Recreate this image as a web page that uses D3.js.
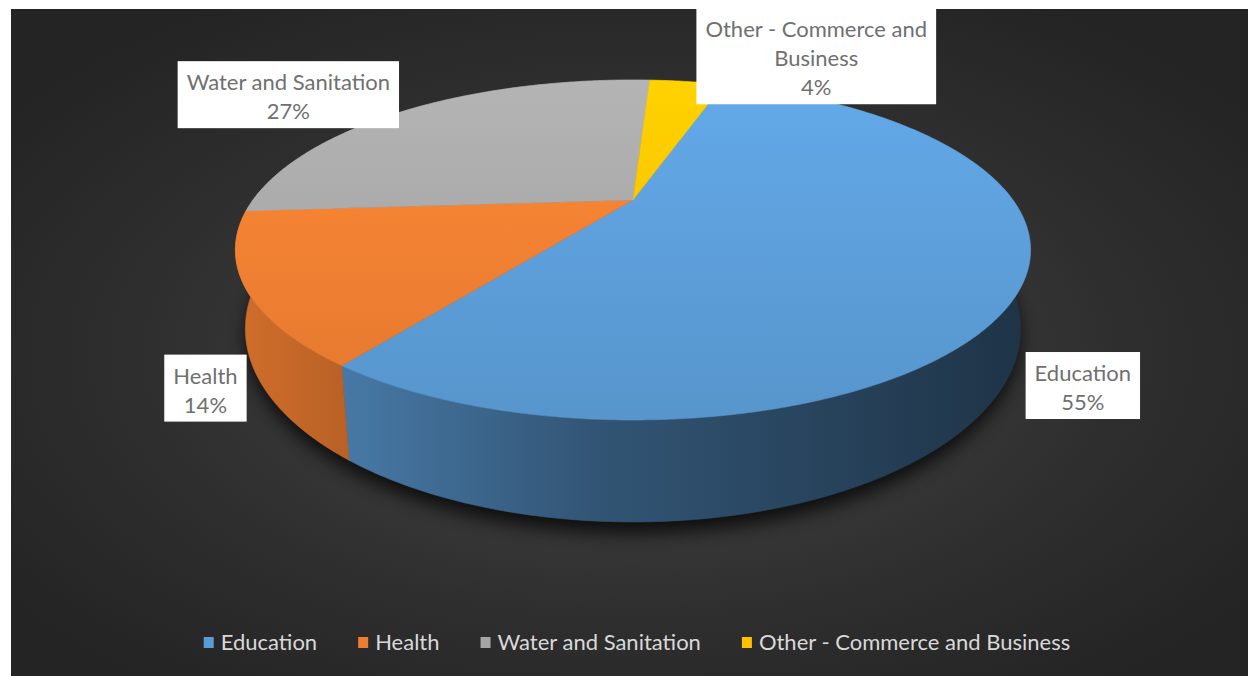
<!DOCTYPE html>
<html>
<head>
<meta charset="utf-8">
<script src="https://cdn.jsdelivr.net/npm/d3@7"></script>
<style>
  html, body { margin: 0; padding: 0; background: #fff; }
  svg { display: block; }
</style>
</head>
<body>
<script>
// data
const categories = ["Education", "Health", "Water and Sanitation", "Other - Commerce and Business"];
const shares = [55, 14, 27, 4];
const labelLines = [["Education"], ["Health"], ["Water and Sanitation"], ["Other - Commerce and", "Business"]];
const sliceColors = ["#5B9BD5", "#ED7D31", "#A5A5A5", "#FFC000"];
// label nudges (Excel "best fit" moves them around)
const labelShift = [[1, 6], [18, -2], [-100, -62], [125, -66]];

const width = 1248, height = 676;
const fontFamily = "Lato, 'Open Sans', sans-serif";

const svg = d3.select("body").append("svg")
    .attr("width", width)
    .attr("height", height);

const defs = svg.append("defs");

// background
const bg = defs.append("radialGradient").attr("id", "bg")
    .attr("cx", "50%").attr("cy", "52%").attr("r", "62%");
bg.append("stop").attr("offset", "0%").attr("stop-color", "#474747");
bg.append("stop").attr("offset", "65%").attr("stop-color", "#2e2e2e");
bg.append("stop").attr("offset", "100%").attr("stop-color", "#242424");

svg.append("rect")
    .attr("x", 11).attr("y", 9)
    .attr("width", width - 11).attr("height", height - 9)
    .attr("fill", "url(#bg)");

// 3d perspective projection of the pie disc
const cx = 633, cy = 200;   // apex
const A = 380, B = 155.3, k = 0.294, H = 72;
const taper = 0.025;         // bottom rim looks a bit narrower

function proj(t, r, h) {
    const u = Math.sin(t) * r, v = -Math.cos(t) * r;
    const s = 1 / (1 - k * v);
    return [cx + A * u * s * (1 - taper * h / H), cy + (B * v + h) * s];
}

function rimPoints(a0, a1, r, h) {
    const n = Math.max(2, Math.ceil((a1 - a0) / 0.01));
    const pts = [];
    for (let i = 0; i <= n; i++) pts.push(proj(a0 + (a1 - a0) * i / n, r, h));
    return pts;
}

const line = d3.line();

const firstSliceAngle = 17.7 * Math.PI / 180;
const pie = d3.pie().sort(null)
    .startAngle(firstSliceAngle)
    .endAngle(firstSliceAngle + 2 * Math.PI);
const arcs = pie(shares);

// shadow
const blur = defs.append("filter").attr("id", "blur")
    .attr("x", "-20%").attr("y", "-20%").attr("width", "140%").attr("height", "140%");
blur.append("feGaussianBlur").attr("stdDeviation", 9);

svg.append("path")
    .attr("d", line(rimPoints(0, 2 * Math.PI, 1.0, H + 8)) + "Z")
    .attr("fill", "#000")
    .attr("opacity", 0.75)
    .attr("filter", "url(#blur)");

// gradients
arcs.forEach((d, i) => {
    const c = d3.rgb(sliceColors[i]);
    const mul = f => d3.rgb(c.r * f, c.g * f, c.b * f).formatHex();
    const wg = defs.append("linearGradient").attr("id", "wall" + i)
        .attr("gradientUnits", "userSpaceOnUse")
        .attr("x1", 235).attr("x2", 1030).attr("y1", 0).attr("y2", 0);
    wg.append("stop").attr("offset", 0).attr("stop-color", mul(0.88));
    wg.append("stop").attr("offset", 0.45).attr("stop-color", mul(0.55));
    wg.append("stop").attr("offset", 1).attr("stop-color", mul(0.33));

    const tg = defs.append("linearGradient").attr("id", "top" + i)
        .attr("gradientUnits", "userSpaceOnUse")
        .attr("x1", 0).attr("x2", 0).attr("y1", 80).attr("y2", 420);
    tg.append("stop").attr("offset", 0).attr("stop-color", c.brighter(0.25).formatHex());
    tg.append("stop").attr("offset", 1).attr("stop-color", c.darker(0.12).formatHex());
});

// outer walls
const walls = svg.append("g");
arcs.forEach((d, i) => {
    const topEdge = rimPoints(d.startAngle, d.endAngle, 1, 0);
    const botEdge = rimPoints(d.startAngle, d.endAngle, 1, H).reverse();
    walls.append("path")
        .attr("d", line(topEdge.concat(botEdge)) + "Z")
        .attr("fill", `url(#wall${i})`)
        .attr("stroke", `url(#wall${i})`)
        .attr("stroke-width", 0.6);
});

// top faces
const tops = svg.append("g");
arcs.forEach((d, i) => {
    const pts = [proj(0, 0, 0)].concat(rimPoints(d.startAngle, d.endAngle, 1, 0));
    tops.append("path")
        .attr("d", line(pts) + "Z")
        .attr("fill", `url(#top${i})`)
        .attr("stroke", `url(#top${i})`)
        .attr("stroke-width", 0.6);
});

// data labels
const lineH = 29, padX = 9;
const labels = svg.append("g");
arcs.forEach((d, i) => {
    const mid = (d.startAngle + d.endAngle) / 2;
    const p = proj(mid, 1.15, H);
    const ccx = p[0] + labelShift[i][0], ccy = p[1] + labelShift[i][1];
    const lines = labelLines[i].concat([Math.round(shares[i] / d3.sum(shares) * 100) + "%"]);
    const g = labels.append("g");
    const box = g.append("rect").attr("fill", "#fff");
    const boxH = lines.length * lineH + 9;
    const top = ccy - boxH / 2;
    let maxW = 0;
    lines.forEach((t, j) => {
        const tx = g.append("text")
            .attr("x", ccx)
            .attr("y", top + lineH * (j + 1))
            .attr("text-anchor", "middle")
            .attr("font-family", fontFamily)
            .attr("font-size", 22)
            .attr("fill", "#707070")
            .text(t);
        maxW = Math.max(maxW, tx.node().getComputedTextLength());
    });
    box.attr("x", ccx - maxW / 2 - padX).attr("y", top)
        .attr("width", maxW + 2 * padX).attr("height", boxH);
});

// legend
const legend = svg.append("g");
let lx = 0;
categories.forEach((name, i) => {
    const g = legend.append("g");
    g.append("rect")
        .attr("x", lx).attr("y", 637)
        .attr("width", 10).attr("height", 11)
        .attr("fill", sliceColors[i]);
    const t = g.append("text")
        .attr("x", lx + 17).attr("y", 650)
        .attr("font-family", fontFamily)
        .attr("font-size", 22)
        .attr("fill", "#d9d9d9")
        .text(name);
    lx += 17 + t.node().getComputedTextLength() + 41;
});
const legendW = lx - 41;
legend.attr("transform", `translate(${637 - legendW / 2},0)`);
</script>
</body>
</html>
